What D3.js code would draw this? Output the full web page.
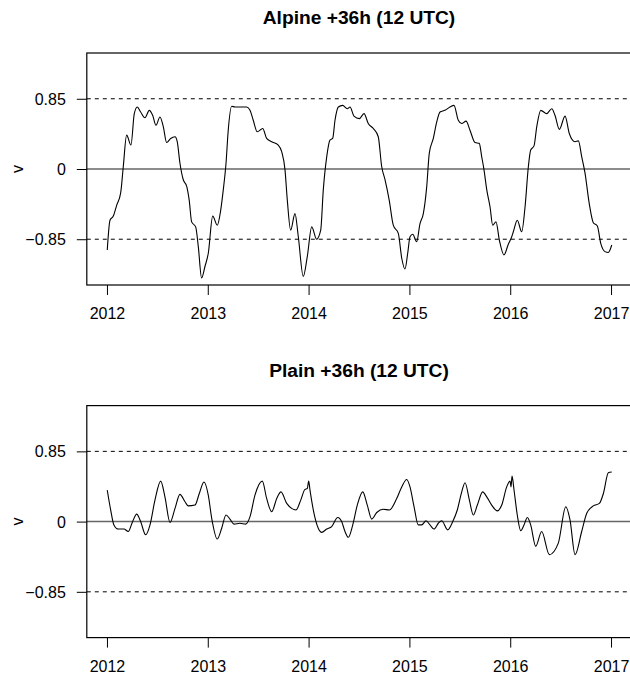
<!DOCTYPE html>
<html><head><meta charset="utf-8">
<script src="https://cdn.jsdelivr.net/npm/d3@7"></script>
<style>html,body{margin:0;padding:0;background:#fff;overflow:hidden}</style>
</head><body><svg id="c" width="630" height="679"></svg>
<script>
const years = [2012, 2013, 2014, 2015, 2016, 2017];
const yTicks = [-0.85, 0, 0.85];
const yTickLabels = ["\u22120.85", "0", "0.85"];
const titles = ["Alpine +36h (12 UTC)", "Plain +36h (12 UTC)"];
const yLabel = "v";

const alpineT = [2012.003,2012.030,2012.063,2012.096,2012.136,2012.162,2012.195,2012.238,2012.271,2012.301,2012.334,2012.377,2012.420,2012.453,2012.486,2012.526,2012.559,2012.592,2012.632,2012.675,2012.697,2012.724,2012.757,2012.791,2012.816,2012.840,2012.880,2012.906,2012.939,2012.972,2013.005,2013.049,2013.094,2013.128,2013.154,2013.181,2013.203,2013.237,2013.270,2013.319,2013.386,2013.419,2013.451,2013.491,2013.545,2013.584,2013.634,2013.699,2013.733,2013.766,2013.789,2013.822,2013.865,2013.898,2013.947,2013.987,2014.031,2014.080,2014.120,2014.146,2014.180,2014.212,2014.239,2014.262,2014.295,2014.338,2014.384,2014.411,2014.450,2014.503,2014.550,2014.592,2014.642,2014.691,2014.725,2014.758,2014.800,2014.840,2014.890,2014.924,2014.956,2014.983,2015.006,2015.033,2015.072,2015.105,2015.138,2015.172,2015.197,2015.237,2015.271,2015.304,2015.353,2015.403,2015.442,2015.485,2015.519,2015.562,2015.601,2015.651,2015.693,2015.717,2015.740,2015.767,2015.800,2015.826,2015.859,2015.892,2015.938,2015.981,2016.015,2016.031,2016.070,2016.114,2016.147,2016.180,2016.203,2016.236,2016.263,2016.303,2016.362,2016.412,2016.444,2016.487,2016.544,2016.586,2016.643,2016.676,2016.709,2016.742,2016.784,2016.824,2016.864,2016.898,2016.940,2016.973,2017.007];
const alpineV = [-0.98,-0.62,-0.57,-0.44,-0.29,0.03,0.41,0.29,0.67,0.75,0.69,0.62,0.71,0.65,0.53,0.63,0.51,0.32,0.37,0.39,0.33,0.07,-0.13,-0.21,-0.38,-0.64,-0.70,-0.94,-1.32,-1.18,-1.02,-0.57,-0.68,-0.50,-0.25,0.07,0.47,0.76,0.75,0.75,0.75,0.71,0.59,0.45,0.49,0.37,0.33,0.29,0.21,-0.01,-0.38,-0.74,-0.54,-0.82,-1.30,-1.06,-0.70,-0.85,-0.74,-0.25,0.15,0.35,0.37,0.59,0.75,0.77,0.73,0.75,0.64,0.61,0.67,0.55,0.49,0.39,0.03,-0.13,-0.38,-0.68,-0.78,-1.08,-1.21,-1.02,-0.82,-0.79,-0.88,-0.66,-0.54,-0.21,0.19,0.37,0.57,0.69,0.71,0.75,0.77,0.59,0.55,0.58,0.47,0.32,0.31,0.15,-0.01,-0.25,-0.46,-0.68,-0.64,-0.86,-1.04,-0.91,-0.82,-0.76,-0.62,-0.76,-0.46,0.03,0.23,0.28,0.51,0.71,0.67,0.73,0.65,0.48,0.64,0.43,0.33,0.34,0.15,-0.05,-0.42,-0.65,-0.69,-0.90,-1.00,-1.01,-0.92];

const plainT = [2012.003,2012.037,2012.069,2012.112,2012.169,2012.211,2012.251,2012.295,2012.334,2012.384,2012.427,2012.476,2012.533,2012.575,2012.625,2012.675,2012.724,2012.774,2012.807,2012.873,2012.916,2012.962,2013.005,2013.039,2013.094,2013.138,2013.181,2013.220,2013.260,2013.319,2013.376,2013.419,2013.468,2013.541,2013.584,2013.634,2013.684,2013.726,2013.783,2013.832,2013.875,2013.922,2013.964,2013.987,2014.001,2014.014,2014.047,2014.096,2014.130,2014.180,2014.229,2014.289,2014.328,2014.361,2014.394,2014.438,2014.483,2014.537,2014.582,2014.626,2014.676,2014.741,2014.801,2014.874,2014.924,2014.973,2015.006,2015.046,2015.088,2015.122,2015.165,2015.204,2015.244,2015.287,2015.320,2015.380,2015.430,2015.475,2015.519,2015.552,2015.595,2015.634,2015.674,2015.727,2015.767,2015.816,2015.872,2015.916,2015.965,2015.998,2016.008,2016.018,2016.038,2016.070,2016.104,2016.137,2016.170,2016.203,2016.253,2016.312,2016.388,2016.477,2016.551,2016.593,2016.643,2016.709,2016.759,2016.824,2016.884,2016.924,2016.973,2017.007];
const plainV = [0.38,0.14,-0.04,-0.09,-0.09,-0.12,-0.01,0.09,0.00,-0.16,-0.04,0.26,0.49,0.30,-0.01,0.16,0.33,0.24,0.19,0.20,0.34,0.48,0.32,0.04,-0.21,-0.08,0.08,0.03,-0.03,-0.02,-0.03,0.06,0.32,0.49,0.28,0.12,0.28,0.36,0.22,0.16,0.14,0.26,0.39,0.40,0.49,0.38,0.14,-0.08,-0.13,-0.09,-0.06,0.05,0.00,-0.12,-0.19,-0.04,0.20,0.36,0.20,0.03,0.11,0.15,0.14,0.28,0.42,0.51,0.42,0.18,-0.04,-0.04,0.01,-0.04,-0.09,-0.02,0.01,-0.10,0.00,0.14,0.36,0.47,0.26,0.08,0.20,0.36,0.30,0.20,0.13,0.20,0.42,0.49,0.42,0.55,0.38,0.08,-0.11,-0.04,0.05,-0.04,-0.30,-0.12,-0.40,-0.26,0.18,0.02,-0.40,-0.12,0.10,0.19,0.22,0.34,0.59,0.60];

const series = [
  {title: titles[0], t: alpineT, v: alpineV, top: 53, bottom: 285, titleY: 24},
  {title: titles[1], t: plainT, v: plainV, top: 405.6, bottom: 637.6, titleY: 376.6}
];

const svg = d3.select("#c");
const font = "'Liberation Sans', Arial, Helvetica, sans-serif";
const x = d3.scaleLinear().domain([2011.8, 2017.2]).range([86.8, 631.2]);

series.forEach(p => {
  const y = d3.scaleLinear().domain([-1.404, 1.404]).range([p.bottom, p.top]);
  const g = svg.append("g");

  // reference lines
  [-0.85, 0.85].forEach(r => {
    g.append("line").attr("x1", x.range()[0]).attr("x2", x.range()[1])
      .attr("y1", y(r)).attr("y2", y(r))
      .attr("stroke", "#000").attr("stroke-width", 1).attr("stroke-dasharray", "4,4");
  });
  g.append("line").attr("x1", x.range()[0]).attr("x2", x.range()[1])
    .attr("y1", y(0)).attr("y2", y(0))
    .attr("stroke", "#666").attr("stroke-width", 1.5);

  // data line
  const pts = p.t.map((t, i) => [t, p.v[i]]);
  g.append("path").datum(pts)
    .attr("fill", "none").attr("stroke", "#000").attr("stroke-width", 1.1)
    .attr("d", d3.line().x(d => x(d[0])).y(d => y(d[1])).curve(d3.curveMonotoneX));

  // box
  g.append("rect").attr("x", x.range()[0]).attr("y", p.top)
    .attr("width", x.range()[1] - x.range()[0]).attr("height", p.bottom - p.top)
    .attr("fill", "none").attr("stroke", "#000").attr("stroke-width", 1.2);

  // x axis
  const xa = g.append("g").attr("transform", `translate(0,${p.bottom})`)
    .call(d3.axisBottom(x).tickValues(years).tickFormat(d3.format("d")).tickSize(10).tickSizeOuter(0));
  xa.select(".domain").remove();
  xa.selectAll(".tick line").attr("stroke", "#000");
  xa.selectAll("text").attr("y", 34).attr("dy", 0)
    .style("font-family", font).style("font-size", "16px").attr("fill", "#000");

  // y axis
  const ya = g.append("g").attr("transform", `translate(${x.range()[0]},0)`)
    .call(d3.axisLeft(y).tickValues(yTicks).tickFormat((d, i) => yTickLabels[i]).tickSize(10).tickPadding(11).tickSizeOuter(0));
  ya.select(".domain").remove();
  ya.selectAll(".tick line").attr("stroke", "#000");
  ya.selectAll("text").attr("dy", "0.35em")
    .style("font-family", font).style("font-size", "16px").attr("fill", "#000");

  // y label
  g.append("text").attr("transform", `translate(23,${y(0)}) rotate(-90)`)
    .attr("text-anchor", "middle")
    .style("font-family", font).style("font-size", "16px").text(yLabel);

  // title
  g.append("text").attr("x", (x.range()[0] + x.range()[1]) / 2).attr("y", p.titleY)
    .attr("text-anchor", "middle")
    .style("font-family", font).style("font-size", "19.2px").style("font-weight", "bold")
    .text(p.title);
});
</script>
</body></html>
